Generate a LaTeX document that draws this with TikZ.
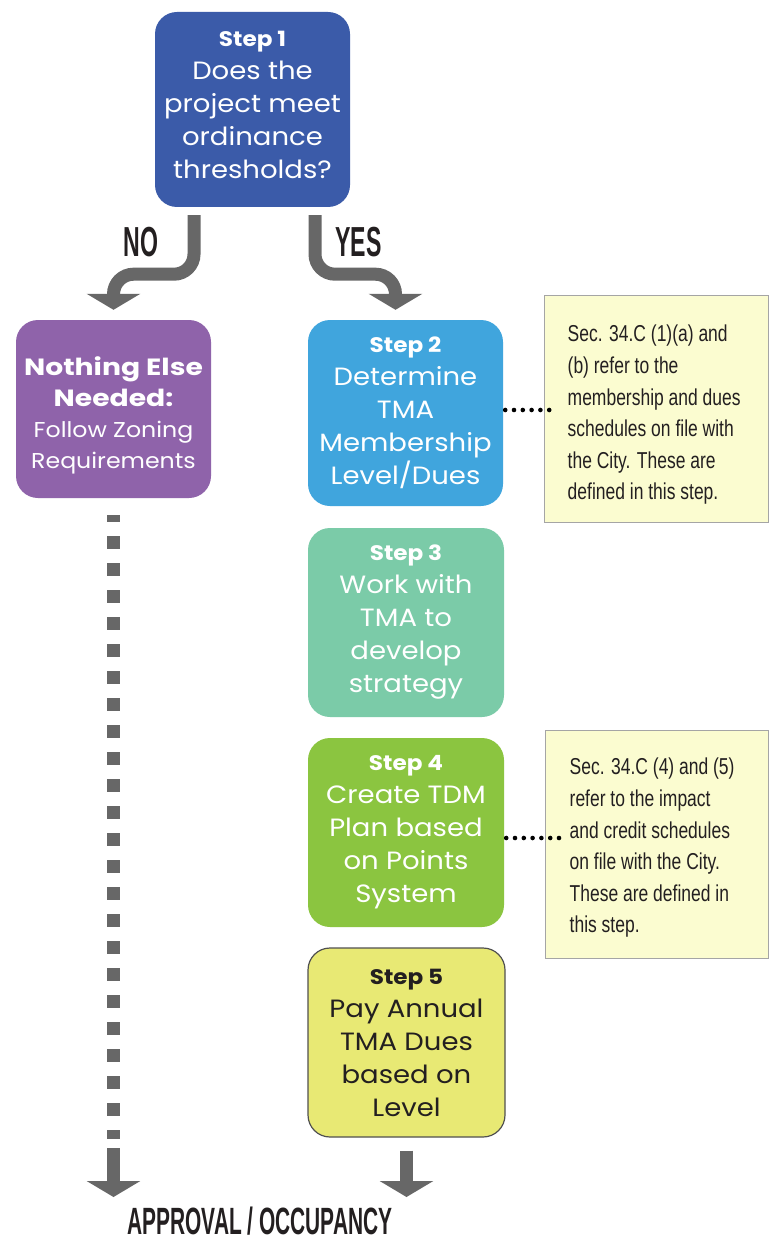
\documentclass[tikz,border=0pt]{standalone}
\usepackage{fontspec}
\usetikzlibrary{arrows.meta}
\newfontfamily\boxfont{Poppins}[FakeStretch=1.1]
\newfontfamily\boxwide{Poppins}[FakeStretch=1.2]
\newfontfamily\notefont{Liberation Sans}[FakeStretch=0.76]
\newfontfamily\labfont{Liberation Sans}[FakeStretch=0.55]
\definecolor{cOne}{RGB}{59,91,169}
\definecolor{cNo}{RGB}{143,99,170}
\definecolor{cTwo}{RGB}{64,165,221}
\definecolor{cThree}{RGB}{123,203,168}
\definecolor{cFour}{RGB}{139,197,64}
\definecolor{cFive}{RGB}{232,233,116}
\definecolor{cFiveLine}{RGB}{80,80,80}
\definecolor{cNote}{RGB}{251,252,208}
\definecolor{cNoteLine}{RGB}{165,165,165}
\definecolor{cArrow}{RGB}{103,103,103}
\definecolor{cLab}{RGB}{35,31,32}
\tikzset{
  stepbox/.style={rounded corners=22pt, inner sep=0pt, align=center, text=white,
    font=\boxfont\fontsize{25}{33}\selectfont},
  notebox/.style={draw=cNoteLine, line width=1pt, fill=cNote, inner sep=0pt},
  notetext/.style={anchor=west, align=left, text=cLab, inner sep=0pt,
    font=\notefont\fontsize{23}{31.6}\selectfont},
  bigarrow/.style={draw=cArrow, line width=13pt, rounded corners=20pt,
    -{Triangle[width=53pt,length=16pt]}},
  dashcol/.style={draw=cArrow, line width=13pt, dash pattern=on 13pt off 14pt, dash phase=6pt},
  dotline/.style={draw=black, line width=4.6pt, line cap=round, dash pattern=on 0pt off 8.8pt},
  lab/.style={anchor=base, text=cLab, inner sep=0pt}
}
\newcommand{\stlab}[1]{{\bfseries\fontsize{21}{33}\selectfont #1}}
\begin{document}
\begin{tikzpicture}[x=1pt,y=-1pt]
\useasboundingbox (0,0) rectangle (770,1241);
\fill[white] (0,0) rectangle (770,1241);

% step boxes
\node[stepbox, fill=cOne, minimum width=195pt, minimum height=195pt] (step1) at (252.5,109.5)
  {\stlab{Step 1}\\Does the\\project meet\\ordinance\\thresholds?\rule[-10pt]{0pt}{10pt}};
\node[stepbox, fill=cNo, minimum width=195pt, minimum height=178pt,
  font=\boxfont\fontsize{21.5}{31}\selectfont] (nothing) at (113.5,409)
  {{\boxwide\bfseries\fontsize{23.5}{31}\selectfont\rule{0pt}{32pt}Nothing Else}\\{\boxwide\bfseries\fontsize{23.5}{31}\selectfont Needed:}\\Follow Zoning\\Requirements};
\node[stepbox, fill=cTwo, minimum width=195pt, minimum height=186pt] (step2) at (405.5,413)
  {\stlab{Step 2}\\Determine\\TMA\\Membership\\Level/Dues};
\node[stepbox, fill=cThree, minimum width=196pt, minimum height=189pt] (step3) at (406,622.5)
  {\stlab{Step 3}\\Work with\\TMA to\\develop\\strategy};
\node[stepbox, fill=cFour, minimum width=196pt, minimum height=189pt] (step4) at (406,832.5)
  {\stlab{Step 4}\\Create TDM\\Plan based\\on Points\\System};
\node[stepbox, fill=cFive, draw=cFiveLine, line width=1.2pt, text=cLab,
  minimum width=197pt, minimum height=189pt] (step5) at (406.5,1042.5)
  {\stlab{Step 5}\\Pay Annual\\TMA Dues\\based on\\Level};

% notes
\node[notebox, minimum width=224pt, minimum height=227pt] (note1) at (656,408.5) {};
\node[notetext] (note1text) at ([xshift=24pt,yshift=-6.5pt]note1.west)
  {Sec. 34.C (1)(a) and\\(b) refer to the\\membership and dues\\schedules on file with\\the City. These are\\defined in this step.};
\node[notebox, minimum width=223pt, minimum height=228pt] (note2) at (656.5,844) {};
\node[notetext] (note2text) at ([xshift=25pt,yshift=-4pt]note2.west)
  {Sec. 34.C (4) and (5)\\refer to the impact\\and credit schedules\\on file with the City.\\These are defined in\\this step.};

% dotted connectors
\coordinate (n1in) at ([xshift=14pt,yshift=-1.5pt]note1.west);
\coordinate (n2in) at ([xshift=15pt,yshift=6pt]note2.west);
\draw[dotline] ([xshift=2pt]step2.east |- n1in) -- (n1in);
\draw[dotline] ([xshift=2pt]step4.east |- n2in) -- (n2in);

% decision arrows
\draw[bigarrow] ([xshift=-58.5pt,yshift=-8pt]step1.south) -- ++(0,59) -| ([yshift=10pt]nothing.north);
\draw[bigarrow] ([xshift=62.5pt,yshift=-8pt]step1.south) -- ++(0,59) -| ([xshift=-10pt,yshift=10pt]step2.north);

% labels
\node[lab, font=\labfont\bfseries\fontsize{42}{42}\selectfont] (nolab) at (141,257) {NO};
\node[lab, font=\labfont\bfseries\fontsize{42}{42}\selectfont] (yeslab) at (358.5,257) {YES};
\node[lab, font=\labfont\bfseries\fontsize{38}{38}\selectfont] (approval) at (260,1234.5) {APPROVAL / OCCUPANCY};

% bottom arrows
\coordinate (dashEnd) at (113.5,1139);
\coordinate (leftStart) at (113.5,1148);
\coordinate (leftTip) at (113.5,1197);
\coordinate (rightTip) at (406.5,1197);
\draw[dashcol] ([yshift=-17pt]nothing.south) -- (dashEnd);
\draw[bigarrow] (leftStart) -- (leftTip);
\draw[bigarrow] ([yshift=-13pt]step5.south) -- (rightTip);
\end{tikzpicture}
\end{document}
